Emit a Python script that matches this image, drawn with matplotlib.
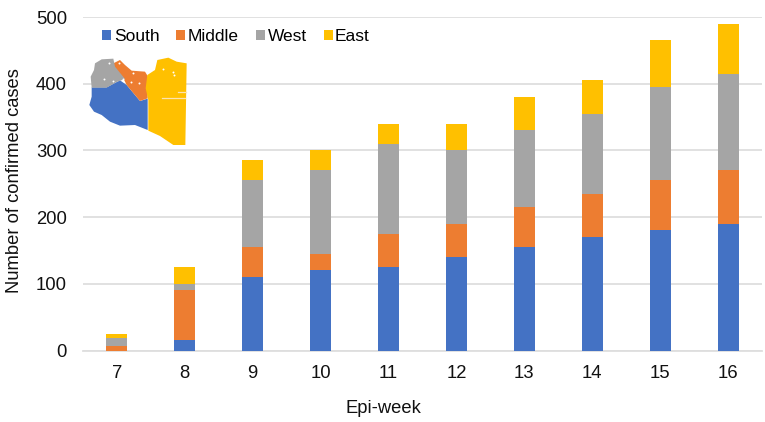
import matplotlib
matplotlib.use("Agg")
import matplotlib.pyplot as plt
import numpy as np

plt.rcParams['font.family'] = ['Liberation Sans', 'DejaVu Sans']

weeks = [7, 8, 9, 10, 11, 12, 13, 14, 15, 16]
south = [0, 15, 110, 120, 125, 140, 155, 170, 180, 190]
middle = [7, 75, 45, 25, 50, 50, 60, 65, 75, 80]
west = [11, 10, 100, 125, 135, 110, 115, 120, 140, 145]
east = [7, 25, 30, 30, 30, 40, 50, 50, 70, 75]

names = ["South", "Middle", "West", "East"]
colors = ["#4472C4", "#ED7D31", "#A5A5A5", "#FFC000"]

# map outline (3x zoom coordinates)
map_west = [(75, 160), (95, 148), (130, 146), (135, 170), (165, 207), (140, 216), (110, 233), (65, 233), (62, 200), (72, 180)]
map_middle = [(130, 160), (150, 150), (165, 165), (185, 182), (225, 185), (233, 198), (233, 265), (210, 273), (170, 225), (160, 205), (130, 170)]
map_south = [(65, 232), (110, 232), (150, 211), (170, 225), (210, 273), (233, 266), (233, 360), (195, 345), (150, 347), (120, 335), (95, 315), (72, 305), (58, 285), (65, 260)]
map_east = [(262, 150), (295, 143), (320, 155), (350, 160), (346, 405), (310, 405), (270, 378), (235, 362), (235, 270), (227, 235), (232, 195), (255, 180)]
map_specks = [(117, 158), (147, 158), (190, 188), (102, 208), (130, 214), (160, 208), (182, 215), (208, 220), (278, 178), (310, 186), (312, 196)]
map_streaks = [((275, 265), (345, 265)), ((325, 245), (348, 245))]

W, H = 765, 422
fig = plt.figure(figsize=(W / 100, H / 100), dpi=100)
ax = fig.add_axes([83 / W, 1 - 350.5 / H, (762 - 83) / W, (350.5 - 17) / H])

x = np.arange(len(weeks))
bottom = np.zeros(len(weeks))
for vals, name, c in zip([south, middle, west, east], names, colors):
    ax.bar(x, vals, 0.31, bottom=bottom, color=c, linewidth=0, label=name, zorder=3)
    bottom += np.array(vals)

ax.set_xlim(-0.5, 9.5)
ax.set_ylim(0, 500)
ax.set_xticks(x)
ax.set_xticklabels(weeks)
ax.set_yticks(range(0, 501, 100))
ax.tick_params(length=0, labelsize=13.3, labelcolor="#111111")
ax.tick_params(axis='x', pad=10.5)
ax.tick_params(axis='y', pad=11.5)
ax.grid(axis='y', color="#DEDEDE", linewidth=1.3, zorder=0)
ax.set_axisbelow(True)
for s in ["top", "right", "left"]:
    ax.spines[s].set_visible(False)
ax.spines["bottom"].set_color("#DEDEDE")
ax.spines["bottom"].set_linewidth(1.3)
ax.set_xlabel("Epi-week", fontsize=13.2, color="#111111")
ax.set_ylabel("Number of confirmed cases", fontsize=13.2, color="#111111")
ax.xaxis.set_label_coords(0.442, -0.149)
ax.yaxis.set_label_coords(-0.089, 0.51)

ax.legend(loc="upper left", bbox_to_anchor=(0.0106, 1.0), ncol=4, frameon=False, fontsize=12.5,
          handlelength=0.52, handleheight=0.52, handletextpad=0.145, columnspacing=0.975, borderaxespad=0.3)

# map inset sits on top of the grid
overlay = fig.add_axes([0, 0, 1, 1], facecolor="none")
overlay.set_xlim(0, W)
overlay.set_ylim(H, 0)
overlay.axis("off")
for pts, c in zip([map_south, map_middle, map_west, map_east], colors):
    px = [(70 + a / 3, 10 + b / 3) for a, b in pts]
    overlay.fill([p[0] for p in px], [p[1] for p in px], color=c, linewidth=0)
overlay.scatter([70 + a / 3 for a, b in map_specks], [10 + b / 3 for a, b in map_specks], s=2, color="white", linewidths=0)
for (a0, b0), (a1, b1) in map_streaks:
    overlay.plot([70 + a0 / 3, 70 + a1 / 3], [10 + b0 / 3, 10 + b1 / 3], color="#FCE3B0", linewidth=0.9)

fig.savefig("out.png", dpi=100)
